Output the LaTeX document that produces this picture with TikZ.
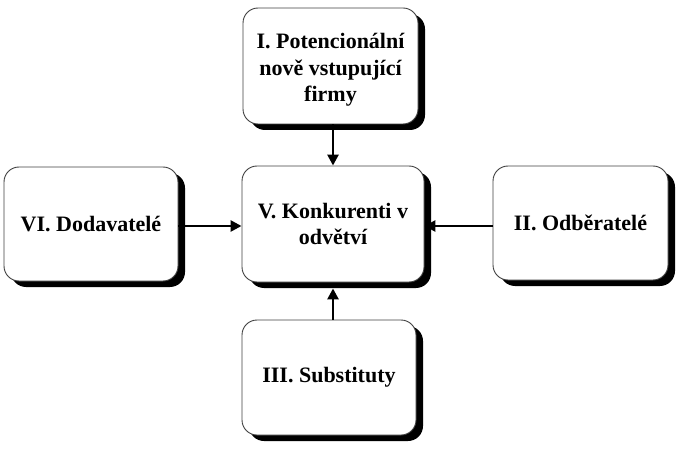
\documentclass[tikz,border=0pt]{standalone}
\usepackage{fontspec}
\setmainfont{Liberation Serif}
\usetikzlibrary{shadows,arrows.meta,calc}
\begin{document}
\begin{tikzpicture}[x=1pt,y=-1pt,
  fbox/.style={draw=black!75, line width=0.9pt, fill=white, rounded corners=15pt,
    align=center, font=\fontsize{22}{26.5}\selectfont\bfseries, inner sep=2pt,
    drop shadow={shadow xshift=7pt, shadow yshift=-6pt, fill=black, opacity=1}},
  ftext/.style={align=center, font=\fontsize{22}{26.5}\selectfont\bfseries, inner sep=0pt},
  farrow/.style={line width=2.6pt, -{Triangle[length=11pt,width=11pt]}}]
\useasboundingbox (0,0) rectangle (685,449);
\node[fbox, minimum width=175pt, minimum height=116pt] (top) at (330.5,66) {};
\node[ftext] (toptext) at ($(top.center)+(0,4)$) {I. Potencionální\\nově vstupující\\firmy};
\node[fbox, minimum width=182pt, minimum height=116pt] (ctr) at (333,224) {V. Konkurenti v\\odvětví};
\node[fbox, minimum width=174pt, minimum height=114pt] (lft) at (91,224) {VI. Dodavatelé};
\node[fbox, minimum width=175pt, minimum height=114pt] (rgt) at (580.5,223) {II. Odběratelé};
\node[fbox, minimum width=174pt, minimum height=115pt] (bot) at (329,377.5) {III. Substituty};
\draw[farrow] (ctr.north |- top.south) -- (ctr.north);
\draw[farrow] (lft.east |- ctr.center) ++(0,2) -- ($(ctr.west)+(0,2)$);
\draw[farrow] (rgt.west |- ctr.center) ++(0,2) -- ($(ctr.east)+(0,2)$);
\draw[farrow] (ctr.south |- bot.north) -- ($(ctr.south)+(0,6)$);
\end{tikzpicture}
\end{document}
